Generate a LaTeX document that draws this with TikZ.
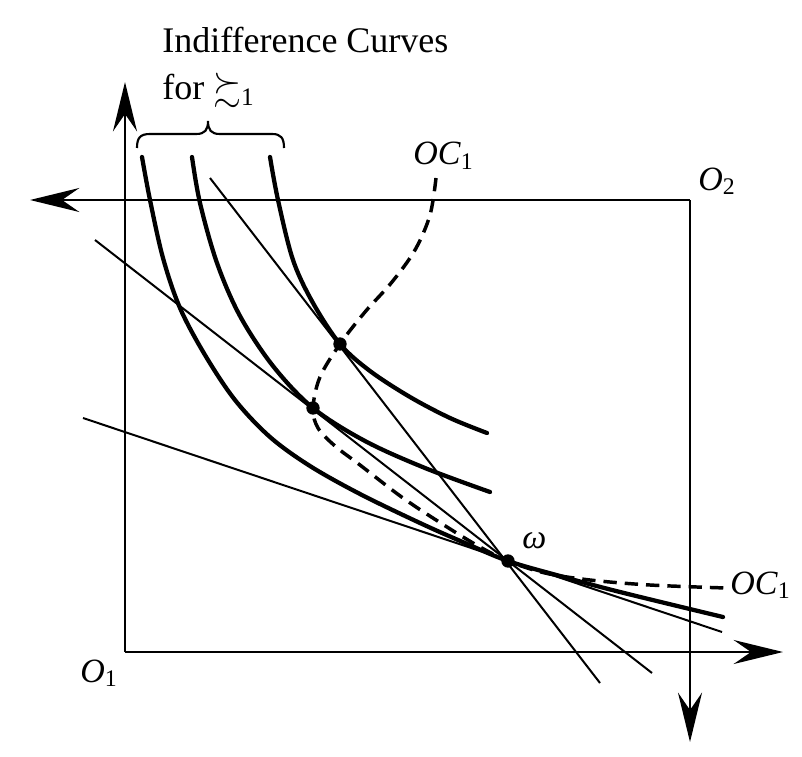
\documentclass[tikz,border=0pt]{standalone}
\usepackage{fontspec}
\setmainfont{Liberation Serif}
\usepackage{amssymb}
\usetikzlibrary{arrows.meta}
\newcommand{\mylab}[2]{\textit{#1}\textsubscript{#2}}
\begin{document}
\begin{tikzpicture}[x=0.75pt,y=-0.75pt,
  axis/.style={line width=2.1pt, -{Stealth[length=37pt,width=18pt,inset=13pt]}},
  budget/.style={line width=1.5pt},
  icurve/.style={line width=3.2pt, line cap=round},
  occurve/.style={line width=2.6pt, dash pattern=on 10pt off 6pt},
  dot/.style={circle, fill=black, inner sep=0pt, minimum size=10pt},
  lbl/.style={font=\fontsize{25.5}{30}\selectfont, inner sep=0pt},
  ttl/.style={font=\fontsize{27}{32}\selectfont, inner sep=0pt}
]
\useasboundingbox (0,0) rectangle (802,756);

% box corners and axis ends
\coordinate (O1c) at (125,652);
\coordinate (O2c) at (690,200);
\coordinate (xend) at (783,652);
\coordinate (yend) at (125,82);
\coordinate (x2end) at (30,200);
\coordinate (y2end) at (690,742);

\draw[axis] (O1c) -- (xend);
\draw[axis] (O1c) -- (yend);
\draw[axis] (O2c) -- (x2end);
\draw[axis] (O2c) -- (y2end);

% points
\node[dot] (w) at (508,561) {};
\node[dot] (t2) at (313,408) {};
\node[dot] (t3) at (340,344) {};

% budget lines
\coordinate (A1) at (83,418);  \coordinate (A2) at (722,632);
\coordinate (B1) at (95,240);  \coordinate (B2) at (652,673);
\coordinate (C1) at (210,178); \coordinate (C2) at (600,683);
\draw[budget] (A1) -- (A2);
\draw[budget] (B1) -- (B2);
\draw[budget] (C1) -- (C2);

% indifference curves
\draw[icurve] plot[smooth, tension=0.55] coordinates {(142,157) (150,200) (163,258) (180,308) (205,355) (235,400) (270,437) (310,466) (360,494) (420,523) (465,543) (508,561) (560,576) (620,592) (723,617)};
\draw[icurve] plot[smooth, tension=0.55] coordinates {(192,157) (200,203) (217,263) (240,316) (273,366) (313,408) (365,441) (425,468) (490,492)};
\draw[icurve] plot[smooth, tension=0.55] coordinates {(270,157) (278,200) (293,260) (313,303) (340,344) (370,371) (410,397) (450,418) (487,433)};

% offer curve
\draw[occurve] plot[smooth, tension=0.55] coordinates {(436,178) (430,215) (415,250) (392,282) (365,312) (340,344) (320,377) (313,408) (318,428) (335,446) (360,465) (403,498) (447,527) (480,547) (508,561) (545,573) (590,580) (650,585) (726,588)};

% brace
\draw[line width=1.6pt] (137,148) .. controls (137,138) and (140,134) .. (150,134) -- (196,134) .. controls (205,134) and (208,130) .. (208,121) .. controls (208,130) and (211,134) .. (220,134) -- (272,134) .. controls (281,134) and (284,138) .. (284,148);

% labels
\node[ttl, anchor=base west] (title1) at (162,53) {Indifference Curves};
\node[ttl, anchor=base west] (title2) at (162,100) {for $\succsim_{\mathrm{1}}$};
\node[lbl, anchor=base west] (lO1) at (80,682) {\mylab{O}{1}};
\node[lbl, anchor=base west] (lO2) at (698,190) {\mylab{O}{2}};
\node[lbl, anchor=base west] (lOCa) at (413,165) {\mylab{OC}{1}};
\node[lbl, anchor=base west] (lOCb) at (730,594) {\mylab{OC}{1}};
\node[lbl, anchor=base west] (lw) at (522,548) {\textit{ω}};
\end{tikzpicture}
\end{document}
